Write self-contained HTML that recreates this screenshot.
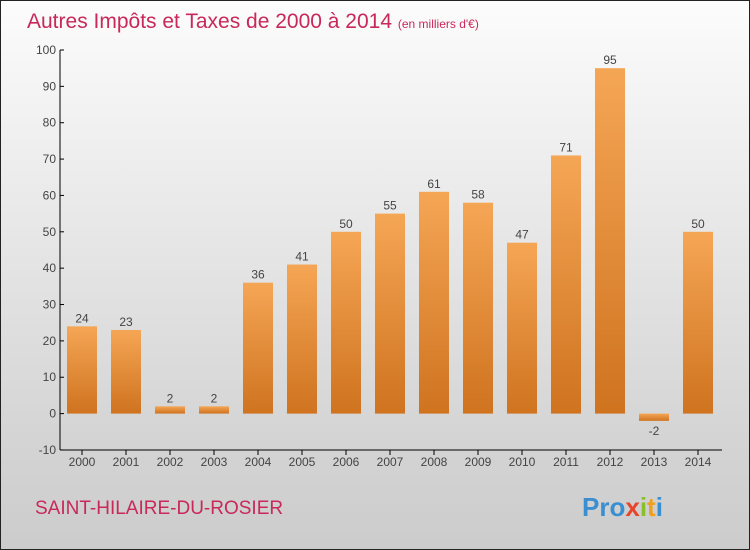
<!DOCTYPE html>
<html><head><meta charset="utf-8"><style>
body{margin:0;width:750px;height:550px;overflow:hidden}
#c{position:absolute;left:0;top:0;width:748px;height:548px;border:1px solid #222;background:linear-gradient(#fcfcfc,#f2f2f2 20%,#d4d4d4 80%,#cccccc)}
text{font-family:"Liberation Sans",sans-serif}
</style></head><body>
<div id="c">
<svg id="s" width="750" height="550" xmlns="http://www.w3.org/2000/svg" style="position:absolute;left:-1px;top:-1px">
<defs><linearGradient id="g" x1="0" y1="0" x2="0" y2="1"><stop offset="0" stop-color="#f5a655"/><stop offset="1" stop-color="#cf731f"/></linearGradient></defs>
<text x="27" y="28" font-size="21" fill="#c8285a">Autres Impôts et Taxes de 2000 à 2014 <tspan font-size="12">(en milliers d'€)</tspan></text>
<text x="35" y="514" font-size="19" fill="#c8285a">SAINT-HILAIRE-DU-ROSIER</text>
<text x="582" y="516" font-size="26" font-weight="bold"><tspan fill="#3a8fd0">Pro</tspan><tspan fill="#e8442a">x</tspan><tspan fill="#8bbf2a">i</tspan><tspan fill="#f0a020">t</tspan><tspan fill="#3a8fd0">i</tspan></text>
<g id="axes"></g><g id="bars"></g>
</svg></div>
<script>
const years=["2000","2001","2002","2003","2004","2005","2006","2007","2008","2009","2010","2011","2012","2013","2014"];
const values=[24,23,2,2,36,41,50,55,61,58,47,71,95,-2,50];
const ticks=[-10,0,10,20,30,40,50,60,70,80,90,100];
const NS="http://www.w3.org/2000/svg";
const y=v=>413.6-v*3.636;
const x=i=>82+i*44;
const ax=document.getElementById('axes'),bg=document.getElementById('bars');
function el(t,a,p){const e=document.createElementNS(NS,t);for(const k in a)e.setAttribute(k,a[k]);p.appendChild(e);return e;}
const yl=el('line',{x1:60,y1:50,x2:60,y2:450,stroke:'#000'},ax);


const xl=el('line',{x1:60,y1:450,x2:722,y2:450,stroke:'#000'},ax);


ticks.forEach(t=>{
 el('line',{x1:60,y1:y(t),x2:64,y2:y(t),stroke:'#000'},ax);
 const tx=el('text',{x:56,y:y(t)+4,'font-size':12,fill:'#444','text-anchor':'end'},ax);
 tx.textContent=t;
 
 
});
years.forEach((yr,i)=>{
 el('line',{x1:x(i),y1:450,x2:x(i),y2:455,stroke:'#000'},ax);
 const tx=el('text',{x:x(i),y:466,'font-size':12,fill:'#444','text-anchor':'middle'},ax);
 tx.textContent=yr;
 
 
 const v=values[i];
 const top=Math.min(y(v),y(0)),h=Math.abs(y(v)-y(0));
 const r=el('rect',{x:x(i)-15,y:top,width:30,height:h,fill:'url(#g)'},bg);
 
 
 const lb=el('text',{x:x(i),y:v>=0?y(v)-4:y(v)+14,'font-size':12,fill:'#444','text-anchor':'middle'},bg);
 lb.textContent=v;
 
 
});
</script>
</body></html>
